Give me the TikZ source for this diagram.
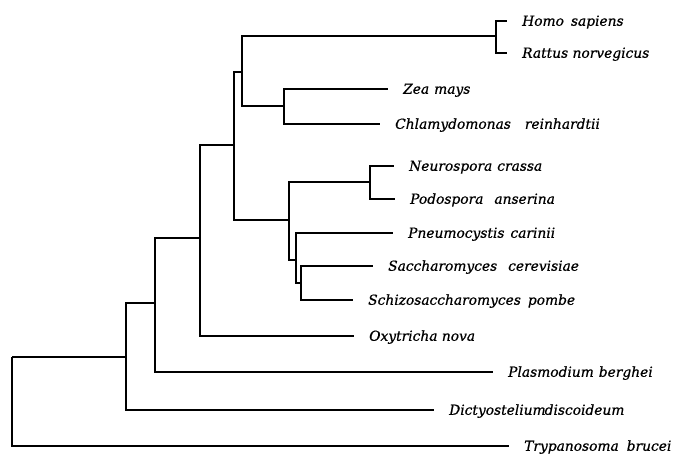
\documentclass[tikz,border=0pt]{standalone}
\usepackage{fontspec}
\setmainfont{DejaVu Serif}[ItalicFeatures={FakeBold=0.7}]
\tikzset{branch/.style={line width=1.5pt,black},
taxon/.style={anchor=west,inner xsep=15pt,inner ysep=0pt,text height=9.5pt,text depth=0pt,font=\fontsize{13.8}{16}\selectfont\itshape}}

\begin{document}
\begin{tikzpicture}[x=1pt,y=-1pt]
\useasboundingbox (0,0) rectangle (684,456);
\coordinate (n0) at (12,357);
\coordinate (n1) at (126,357);
\coordinate (n2) at (155,303);
\coordinate (n3) at (200,238);
\coordinate (n4) at (234,145);
\coordinate (n5) at (242,72);
\coordinate (n6) at (289,220);
\coordinate (n7) at (496,36);
\coordinate (n8) at (284,106);
\coordinate (n9) at (370,182);
\coordinate (n10) at (296,260);
\coordinate (n11) at (301,283);
\node[taxon] (homo) at (507,21) {Homo\hspace{7pt}sapiens};
\node[taxon] (rattus) at (507,53) {Rattus norvegicus};
\node[taxon] (zea) at (388,89) {Zea\hspace{5pt}mays};
\node[taxon] (chlamy) at (380,124) {Chlamydomonas\hspace{14pt}reinhardtii};
\node[taxon] (neuro) at (394,166) {Neurospora\hspace{5pt}crassa};
\node[taxon] (podo) at (395,199) {Podospora\hspace{11pt}anserina};
\node[taxon] (pneumo) at (393,233) {Pneumocystis\hspace{6pt}carinii};
\node[taxon] (sacch) at (373,266) {Saccharomyces\hspace{11pt}cerevisiae};
\node[taxon] (schizo) at (353,300) {Schizosaccharomyces\hspace{7pt}pombe};
\node[taxon] (oxy) at (354,336) {Oxytricha nova};
\node[taxon] (plasm) at (493,372) {Plasmodium\hspace{5pt}berghei};
\node[taxon] (dicty) at (434,410) {Dictyostelium\hspace{-1pt}discoideum};
\node[taxon] (tryp) at (509,446) {Trypanosoma\hspace{8pt}brucei};
\draw[branch] (n0) -- (n1) (n0) |- (tryp.west);
\draw[branch] (n1) |- (n2) (n1) |- (dicty.west);
\draw[branch] (n2) |- (n3) (n2) |- (plasm.west);
\draw[branch] (n3) |- (n4) (n3) |- (oxy.west);
\draw[branch] (n4) |- (n5) (n4) |- (n6);
\draw[branch] (n5) |- (n7) (n5) |- (n8);
\draw[branch] (n7) |- (homo.west) (n7) |- (rattus.west);
\draw[branch] (n8) |- (zea.west) (n8) |- (chlamy.west);
\draw[branch] (n6) |- (n9) (n6) |- (n10);
\draw[branch] (n9) |- (neuro.west) (n9) |- (podo.west);
\draw[branch] (n10) |- (pneumo.west) (n10) |- (n11);
\draw[branch] (n11) |- (sacch.west) (n11) |- (schizo.west);
\end{tikzpicture}
\end{document}
